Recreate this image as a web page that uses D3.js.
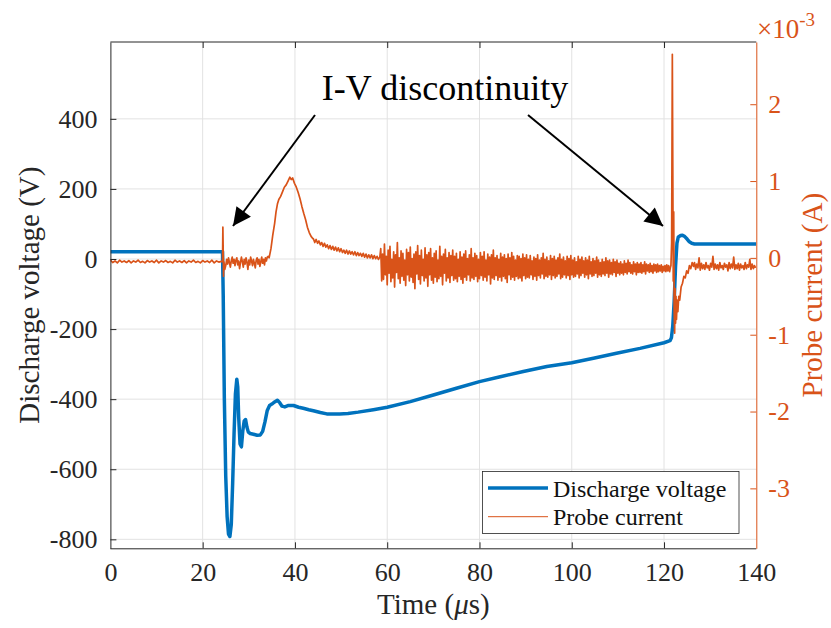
<!DOCTYPE html>
<html><head><meta charset="utf-8">
<script src="https://cdn.jsdelivr.net/npm/d3@7"></script>
<style>
body{margin:0;background:#fff}
svg{display:block}
svg text{font-family:"Liberation Serif","Times New Roman",serif !important}
</style>
</head><body>
<svg id="chart" width="831" height="628"></svg>
<script>
// ---------------- DATA ----------------
const timeTicks = [0, 20, 40, 60, 80, 100, 120, 140];
const voltTicks = [-800, -600, -400, -200, 0, 200, 400];
const currentTicks = [-3, -2, -1, 0, 1, 2];           // ×10^-3 A
const seriesNames = ["Discharge voltage", "Probe current"];
const xTitle = "Time (", xTitleMu = "\u03bc", xTitleEnd = "s)";
const yLeftTitle = "Discharge voltage (V)";
const yRightTitle = "Probe current (A)";
const annotationText = "I-V discontinuity";

// Discharge voltage: [time (µs), volts]
const voltage = [
  [0,21],[24.3,21],[24.45,-100],[24.7,-400],[25.0,-620],[25.3,-735],[25.6,-785],[25.9,-792],
  [26.2,-758],[26.5,-640],[26.8,-500],[27.1,-385],[27.4,-343],[27.6,-365],[27.8,-450],
  [28.1,-528],[28.4,-536],[28.7,-490],[29.0,-462],[29.3,-458],[29.6,-480],[29.9,-494],
  [30.3,-498],[31.0,-500],[31.8,-503],[32.5,-502],[33.0,-492],[33.5,-465],[34.0,-432],
  [34.5,-418],[35.0,-414],[35.6,-408],[36.2,-403],[36.7,-410],[37.2,-420],[37.8,-422],
  [38.6,-418],[39.7,-418],[40.8,-423],[41.8,-426],[43.0,-430],[44.0,-433],[45.5,-438],
  [46.9,-442],[49.7,-442],[51.5,-441],[53.7,-437],[57,-430],[60,-423],[65,-407],[70,-388],
  [75,-369],[80,-350],[84.5,-336],[89.5,-321],[94.6,-307],[100,-296],[104.7,-283],
  [109.7,-269],[114.8,-255],[120,-239],[121.3,-233],[121.6,-225],[121.9,-190],[122.2,-120],
  [122.5,-20],[122.8,45],[123.1,63],[123.6,67],[124.0,68],[124.5,64],[125.0,57],[125.5,49],
  [126.0,45],[126.6,43],[140,43]
];

// Probe current (×10^-3 A), uniformly sampled pieces + explicit pieces
const curBaseline = [ // t = 0 .. 24.0, every 0.5 µs
  -0.03,-0.06,-0.04,-0.065,-0.03,-0.055,-0.04,-0.06,-0.035,-0.065,
  -0.04,-0.055,-0.03,-0.06,-0.045,-0.065,-0.035,-0.055,-0.04,-0.06,
  -0.03,-0.065,-0.04,-0.055,-0.035,-0.06,-0.045,-0.065,-0.03,-0.055,
  -0.04,-0.06,-0.035,-0.065,-0.04,-0.055,-0.03,-0.06,-0.045,-0.065,
  -0.035,-0.055,-0.04,-0.06,-0.03,-0.065,-0.04,-0.055,-0.045
];
const curSpikeStart = [[24.3,-0.05],[24.38,0.40],[24.45,0.10],[24.52,-0.24]];
const curOscillation = [ // t = 24.6 .. 34.2, every 0.2 µs
  -0.05,-0.15,-0.10,-0.02,-0.08,0.00,-0.06,-0.12,-0.04,0.01,
  -0.07,-0.02,-0.10,-0.03,0.00,-0.09,-0.04,-0.14,-0.06,0.01,
  -0.05,-0.12,-0.02,-0.08,0.00,-0.06,-0.15,-0.03,-0.09,0.01,
  -0.04,-0.10,-0.02,-0.07,-0.13,-0.03,0.00,-0.08,-0.02,-0.11,
  -0.05,0.01,-0.07,-0.02,-0.09,0.00,-0.04,0.01,0.02
];
const curPeak = [
  [34.4,0.00],[34.8,0.12],[35.2,0.30],[35.6,0.45],[35.9,0.60],[36.2,0.70],[36.5,0.76],
  [36.9,0.80],[37.3,0.86],[37.7,0.92],[38.1,0.95],[38.5,1.00],[38.9,1.05],[39.2,1.02],
  [39.5,1.04],[39.9,0.97],[40.3,0.92],[40.7,0.85],[41.1,0.77],[41.5,0.67],[41.9,0.58],
  [42.3,0.50],[42.7,0.40],[43.1,0.33],[43.5,0.28],[43.9,0.25]
];
const curDecay = [ // t = 44.0 .. 58.4, every 0.3 µs
  0.25,0.20,0.24,0.19,0.22,0.17,0.20,0.15,0.19,0.14,
  0.17,0.12,0.16,0.11,0.15,0.10,0.14,0.09,0.13,0.08,
  0.12,0.07,0.10,0.06,0.10,0.05,0.09,0.05,0.08,0.04,
  0.08,0.03,0.07,0.03,0.06,0.02,0.06,0.01,0.05,0.00,
  0.04,0.00,0.04,-0.01,0.03,-0.01,0.02,-0.02,0.01
];
const curNoise = [ // t = 58.6 .. 121.4, every 0.2 µs
  0.12,-0.30,0.05,-0.28,0.18,-0.22,0.02,-0.35,0.10,-0.20,
  0.15,-0.31,-0.02,-0.26,0.08,-0.38,0.04,-0.19,0.20,-0.27,
  0.00,-0.33,0.09,-0.24,0.06,-0.29,-0.03,-0.36,0.11,-0.22,
  0.07,-0.30,0.14,-0.25,-0.01,-0.32,0.05,-0.40,0.08,-0.21,
  0.16,-0.28,0.03,-0.34,0.10,-0.23,-0.02,-0.30,0.13,-0.26,
  0.04,-0.37,0.07,-0.22,0.12,-0.29,0.00,-0.33,0.06,-0.25,
  0.09,-0.31,-0.03,-0.27,0.15,-0.24,0.02,-0.35,0.05,-0.20,
  0.11,-0.30,0.00,-0.26,0.07,-0.32,0.03,-0.23,0.10,-0.29,
  0.02,-0.27,0.06,-0.31,-0.02,-0.24,0.08,-0.28,0.01,-0.33,
  0.05,-0.25,0.09,-0.29,-0.01,-0.22,0.04,-0.30,0.12,-0.26,
  0.00,-0.28,0.06,-0.24,0.03,-0.31,-0.02,-0.27,0.07,-0.23,
  0.02,-0.29,0.08,-0.25,-0.03,-0.30,0.05,-0.22,0.01,-0.34,
  0.04,-0.26,0.10,-0.28,0.00,-0.23,0.03,-0.29,-0.02,-0.25,
  0.06,-0.30,0.01,-0.24,0.04,-0.27,-0.01,-0.32,0.05,-0.22,
  0.00,-0.28,0.07,-0.25,0.02,-0.29,-0.03,-0.24,0.03,-0.27,
  0.02,-0.26,-0.01,-0.30,0.05,-0.23,0.00,-0.27,0.04,-0.25,
  -0.02,-0.26,0.03,-0.22,-0.04,-0.28,0.01,-0.24,-0.01,-0.29,
  0.04,-0.23,-0.03,-0.26,0.00,-0.21,0.06,-0.27,-0.02,-0.24,
  0.01,-0.25,-0.04,-0.22,0.03,-0.28,-0.01,-0.23,0.02,-0.26,
  -0.03,-0.24,0.00,-0.21,0.05,-0.27,-0.02,-0.25,0.01,-0.22,
  -0.04,-0.26,0.02,-0.23,-0.01,-0.28,0.03,-0.22,-0.03,-0.25,
  0.00,-0.24,-0.05,-0.21,0.02,-0.26,-0.02,-0.23,0.01,-0.20,
  -0.04,-0.25,0.00,-0.22,-0.03,-0.27,0.02,-0.21,-0.05,-0.24,
  -0.01,-0.23,-0.04,-0.20,0.01,-0.25,-0.03,-0.22,-0.06,-0.24,
  -0.02,-0.21,-0.05,-0.23,0.00,-0.20,-0.04,-0.25,-0.03,-0.21,
  -0.06,-0.22,-0.02,-0.19,-0.05,-0.24,-0.03,-0.20,-0.07,-0.22,
  -0.05,-0.20,-0.08,-0.22,-0.04,-0.19,-0.07,-0.21,-0.03,-0.18,
  -0.06,-0.20,-0.09,-0.21,-0.05,-0.18,-0.08,-0.22,-0.06,-0.19,
  -0.08,-0.19,-0.06,-0.20,-0.09,-0.18,-0.05,-0.21,-0.08,-0.17,
  -0.09,-0.19,-0.07,-0.18,-0.10,-0.20,-0.08,-0.17,-0.09,-0.19,
  -0.08,-0.18,-0.10,-0.17,-0.09,-0.19,-0.11,-0.17,-0.10,-0.18,
  -0.09,-0.17,-0.10,-0.18,-0.12
];
const curSpikeEnd = [
  [121.5,-0.10],[121.65,0.20],[121.8,2.65],[121.9,1.20],[122.0,-0.30],[122.1,0.60],
  [122.2,-0.70],[122.3,-0.98],[122.4,-0.40],[122.5,-0.85],[122.6,-0.50],[122.7,-0.80],
  [122.85,-0.55],[123.0,-0.70],[123.2,-0.50],[123.4,-0.55],[123.7,-0.38],[124.0,-0.33],
  [124.3,-0.24],[124.6,-0.26],[124.9,-0.17],[125.2,-0.20],[125.5,-0.10],[125.8,-0.14],
  [126.1,-0.06],[126.4,-0.11]
];
const curTail = [ // t = 126.6 .. 139.85, every 0.25 µs
  -0.06,-0.15,-0.08,-0.13,0.00,-0.16,-0.07,-0.14,-0.09,-0.15,
  -0.06,-0.13,-0.10,-0.16,-0.07,-0.12,0.02,-0.15,-0.08,-0.14,
  -0.09,-0.16,-0.06,-0.13,-0.10,-0.15,-0.07,-0.12,-0.09,-0.17,
  -0.06,-0.14,-0.08,-0.13,0.01,-0.15,-0.09,-0.14,-0.07,-0.16,
  -0.08,-0.13,-0.10,-0.15,-0.06,-0.14,-0.09,-0.12,-0.02,-0.15,
  -0.08,-0.14,-0.10,-0.13
];

// ---------------- BUILD ----------------
function sampled(t0, dt, vals) { return vals.map((v, i) => [t0 + i * dt, v]); }
const current = [].concat(
  sampled(0, 0.5, curBaseline), curSpikeStart,
  sampled(24.6, 0.2, curOscillation), curPeak,
  sampled(44.0, 0.3, curDecay), sampled(58.6, 0.2, curNoise),
  curSpikeEnd, sampled(126.6, 0.25, curTail)
);

const BLUE = "#0072BD", ORANGE = "#D95319", DARK = "#262626", GRID = "#e2e2e2";
const FONT = '"Liberation Serif", "Times New Roman", serif';
const L = 110.4, R = 756.3, T = 42, B = 548.3;

const svg = d3.select("#chart");
const x = d3.scaleLinear().domain([0, 140]).range([L, R]);
const yL = d3.scaleLinear().domain([-825.6, 619.3]).range([B, T]);
const yR = d3.scaleLinear().domain([-3.78, 2.81]).range([B, T]);
const plain = d => String(d);

// grid
const g = svg.append("g");
g.selectAll(".vg").data(timeTicks.slice(1, -1)).enter().append("line")
  .attr("x1", d => x(d)).attr("x2", d => x(d)).attr("y1", T).attr("y2", B)
  .attr("stroke", GRID).attr("stroke-width", 1);
g.selectAll(".hg").data(voltTicks).enter().append("line")
  .attr("y1", d => yL(d)).attr("y2", d => yL(d)).attr("x1", L).attr("x2", R)
  .attr("stroke", GRID).attr("stroke-width", 1);

// clip
svg.append("clipPath").attr("id", "clip").append("rect")
  .attr("x", L).attr("y", T).attr("width", R - L).attr("height", B - T);

const plot = svg.append("g").attr("clip-path", "url(#clip)");
plot.append("path").datum(voltage)
  .attr("d", d3.line().x(d => x(d[0])).y(d => yL(d[1])))
  .attr("fill", "none").attr("stroke", BLUE).attr("stroke-width", 3.5)
  .attr("stroke-linejoin", "round");
plot.append("path").datum(current)
  .attr("d", d3.line().x(d => x(d[0])).y(d => yR(d[1])))
  .attr("fill", "none").attr("stroke", ORANGE).attr("stroke-width", 1.7)
  .attr("stroke-linejoin", "round");

// axes
const fs = 26;
const axB = svg.append("g").attr("transform", `translate(0,${B})`)
  .call(d3.axisBottom(x).tickValues(timeTicks).tickFormat(plain).tickSize(-6).tickPadding(14).tickSizeOuter(0));
const axT = svg.append("g").attr("transform", `translate(0,${T})`)
  .call(d3.axisTop(x).tickValues(timeTicks).tickSize(-6).tickFormat("").tickSizeOuter(0));
const axL = svg.append("g").attr("transform", `translate(${L},0)`)
  .call(d3.axisLeft(yL).tickValues(voltTicks).tickFormat(plain).tickSize(-6).tickPadding(13).tickSizeOuter(0));
const axR = svg.append("g").attr("transform", `translate(${R},0)`)
  .call(d3.axisRight(yR).tickValues(currentTicks).tickFormat(plain).tickSize(-6).tickPadding(12).tickSizeOuter(0));

[axB, axT, axL, axR].forEach(a => a.attr("font-family", FONT));
[axB, axT, axL].forEach(a => {
  a.select(".domain").attr("stroke", DARK).attr("stroke-width", 1);
  a.selectAll(".tick line").attr("stroke", DARK);
  a.selectAll("text").attr("fill", DARK).style("font-size", fs + "px");
});
axT.selectAll(".tick").filter((d, i) => i === 0 || i === timeTicks.length - 1).remove();
axB.selectAll(".tick line").filter(d => d === 0 || d === 140).remove();
axR.select(".domain").attr("stroke", ORANGE).attr("stroke-width", 1);
axR.selectAll(".tick line").attr("stroke", ORANGE);
axR.selectAll("text").attr("fill", ORANGE).style("font-size", fs + "px");
axB.select(".domain").attr("d", `M${L},0.5H${R}`);
axT.select(".domain").attr("d", `M${L},0H${R}`);

// axis titles
svg.append("text").attr("x", x(70)).attr("y", 614).attr("text-anchor", "middle")
  .style("font-size", "29px").attr("fill", DARK).attr("font-family", FONT)
  .call(t => {
    t.append("tspan").text(xTitle);
    t.append("tspan").style("font-style", "italic").text(xTitleMu);
    t.append("tspan").text(xTitleEnd);
  });
svg.append("text").attr("transform", `translate(39,${(T + B) / 2}) rotate(-90)`)
  .attr("text-anchor", "middle").style("font-size", "29px").attr("fill", DARK)
  .attr("font-family", FONT).text(yLeftTitle);
svg.append("text").attr("transform", `translate(822,${(T + B) / 2}) rotate(-90)`)
  .attr("text-anchor", "middle").style("font-size", "29px").attr("fill", ORANGE)
  .attr("font-family", FONT).text(yRightTitle);

// exponent label
svg.append("text").attr("x", 757).attr("y", 38).attr("fill", ORANGE)
  .style("font-size", "27px").attr("font-family", FONT)
  .call(t => {
    t.append("tspan").text("\u00d710");
    t.append("tspan").attr("dy", -12).style("font-size", "19px").text("-3");
  });

// legend
const lg = svg.append("g").attr("font-family", FONT);
lg.append("rect").attr("x", 482.5).attr("y", 471.5).attr("width", 256.5).attr("height", 62)
  .attr("fill", "#fff").attr("stroke", DARK).attr("stroke-width", 0.8);
lg.append("line").attr("x1", 488).attr("x2", 548).attr("y1", 488).attr("y2", 488)
  .attr("stroke", BLUE).attr("stroke-width", 3.5);
lg.append("line").attr("x1", 488).attr("x2", 548).attr("y1", 516.7).attr("y2", 516.7)
  .attr("stroke", ORANGE).attr("stroke-width", 1);
lg.append("text").attr("x", 553).attr("y", 497).style("font-size", "24px").attr("fill", "#111")
  .text(seriesNames[0]);
lg.append("text").attr("x", 553).attr("y", 525).style("font-size", "24px").attr("fill", "#111")
  .text(seriesNames[1]);

// annotation
const defs = svg.append("defs");
defs.append("marker").attr("id", "arrow").attr("viewBox", "0 0 10 10")
  .attr("refX", 10).attr("refY", 5)
  .attr("markerUnits", "userSpaceOnUse").attr("orient", "auto")
  .attr("markerWidth", 24).attr("markerHeight", 18)
  .append("path").attr("d", "M0,0L10,5L0,10Z").attr("fill", "#000");
svg.append("text").attr("x", 445).attr("y", 100).attr("text-anchor", "middle")
  .style("font-size", "36px").attr("fill", "#000").attr("font-family", FONT).text(annotationText);
svg.append("line").attr("x1", 315).attr("y1", 115).attr("x2", 233).attr("y2", 226)
  .attr("stroke", "#000").attr("stroke-width", 2).attr("marker-end", "url(#arrow)");
svg.append("line").attr("x1", 528).attr("y1", 115).attr("x2", 663).attr("y2", 226)
  .attr("stroke", "#000").attr("stroke-width", 2).attr("marker-end", "url(#arrow)");
</script>
</body></html>
